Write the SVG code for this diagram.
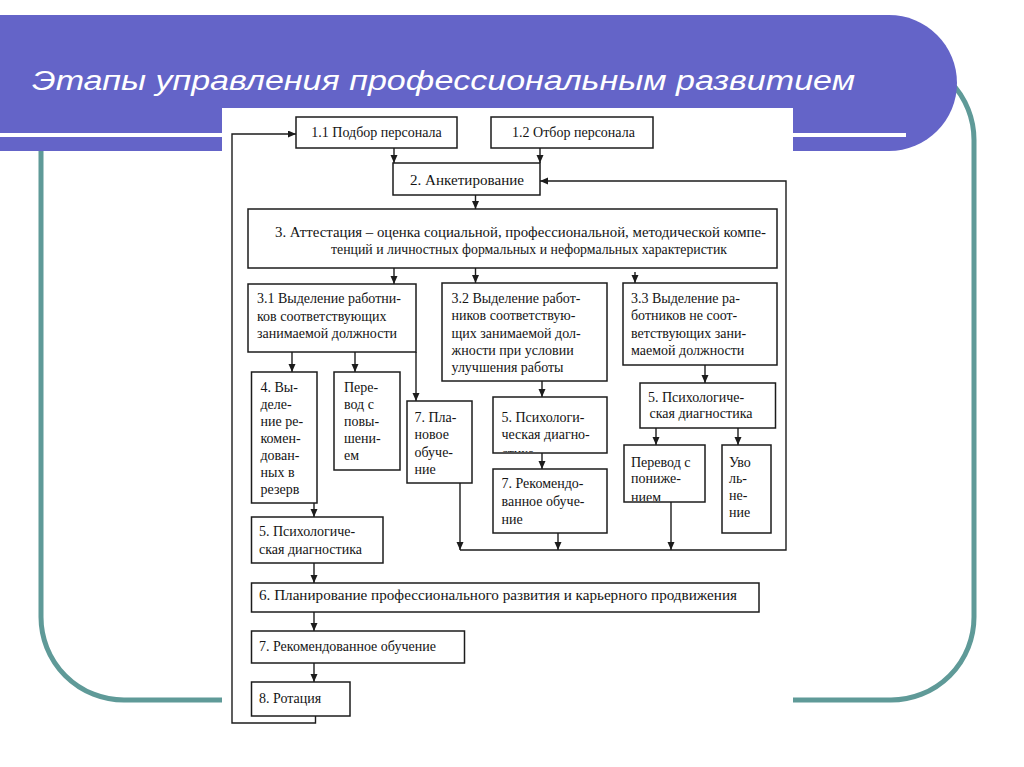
<svg xmlns="http://www.w3.org/2000/svg" width="1024" height="767" viewBox="0 0 1024 767">
<style>
.box{fill:#fff;stroke:#1c1c1c;stroke-width:1.5}
.t{font-family:"Liberation Serif","Times New Roman",serif;font-size:14px;fill:#141414}
.c{fill:none;stroke:#1c1c1c;stroke-width:1.4}
.a{marker-end:url(#ah)}
.title{font-family:"Liberation Sans",Arial,sans-serif;font-style:italic;font-size:27px;fill:#fff}
</style>
<defs>
<marker id="ah" markerUnits="userSpaceOnUse" markerWidth="8" markerHeight="8" refX="8" refY="3.5" orient="auto">
<path d="M0,0 L8,3.5 L0,7 Z" fill="#1c1c1c"/>
</marker>
<clipPath id="clipMid5"><rect x="493" y="397" width="114" height="55"/></clipPath>
<clipPath id="clipDown"><rect x="624" y="445" width="81" height="56"/></clipPath>
</defs>
<rect width="1024" height="767" fill="#fff"/>
<g id="background">
<rect x="41" y="57" width="933" height="643" rx="83" ry="83" fill="none" stroke="#5f9a98" stroke-width="5"/>
<path d="M0,15 H889 A68,68 0 0 1 889,151 H0 Z" fill="#6464c8"/>
<rect x="0" y="133" width="906" height="4" fill="#fff"/>
<text class="title" x="32" y="90" textLength="823" lengthAdjust="spacingAndGlyphs">Этапы управления профессиональным развитием</text>
<rect x="222" y="108" width="571" height="620" fill="#fff"/>
</g>
<g id="connectors">
<line class="c a" x1="394" y1="148" x2="394" y2="163"/>
<line class="c a" x1="540" y1="148" x2="540" y2="163"/>
<line class="c a" x1="475.5" y1="195" x2="475.5" y2="209"/>
<line class="c a" x1="394" y1="268" x2="394" y2="284"/>
<line class="c a" x1="475.5" y1="268" x2="475.5" y2="283"/>
<line class="c a" x1="635" y1="272" x2="635" y2="283"/>
<line class="c a" x1="292" y1="352" x2="292" y2="372"/>
<line class="c a" x1="355" y1="352" x2="355" y2="372"/>
<line class="c a" x1="416" y1="352" x2="416" y2="401"/>
<line class="c a" x1="542" y1="381" x2="542" y2="397"/>
<line class="c a" x1="542" y1="453" x2="542" y2="469"/>
<line class="c a" x1="705" y1="365" x2="705" y2="383"/>
<line class="c a" x1="656" y1="428" x2="656" y2="445"/>
<line class="c a" x1="738" y1="428" x2="738" y2="445"/>
<line class="c a" x1="314" y1="503" x2="314" y2="517"/>
<line class="c a" x1="314" y1="563" x2="314" y2="583"/>
<line class="c a" x1="314" y1="612" x2="314" y2="631"/>
<line class="c a" x1="314" y1="663" x2="314" y2="682"/>
<polyline class="c a" points="315.5,716 315.5,723 232,723 232,134 296,134"/>
<line class="c a" x1="460" y1="483" x2="460" y2="550"/>
<line class="c a" x1="558" y1="533" x2="558" y2="550"/>
<line class="c a" x1="671" y1="502" x2="671" y2="550"/>
<polyline class="c a" points="460,550 786,550 786,181 540,181"/>
</g>
<g id="n11"><rect class="box" x="296" y="117" width="161" height="31"/><text class="t" x="376.5" y="137" text-anchor="middle">1.1 Подбор персонала</text></g>
<g id="n12"><rect class="box" x="491" y="117" width="162" height="31"/><text class="t" x="573.5" y="137" text-anchor="middle">1.2 Отбор персонала</text></g>
<g id="n2"><rect class="box" x="393" y="163" width="147" height="32"/><text class="t" x="410" y="185" textLength="114" lengthAdjust="spacingAndGlyphs">2. Анкетирование</text></g>
<g id="n3"><rect class="box" x="248" y="209" width="529" height="59"/>
<text class="t" x="275" y="236.5" textLength="491" lengthAdjust="spacingAndGlyphs">3. Аттестация – оценка социальной, профессиональной, методической компе-</text>
<text class="t" x="331" y="253.5" textLength="396" lengthAdjust="spacingAndGlyphs">тенций и личностных формальных и неформальных характеристик</text></g>
<g id="n31"><rect class="box" x="248" y="284" width="168" height="68"/>
<text class="t"><tspan x="257" y="303">3.1 Выделение работни-</tspan><tspan x="257" y="320.5">ков соответствующих</tspan><tspan x="257" y="338">занимаемой должности</tspan></text></g>
<g id="n32"><rect class="box" x="442" y="283" width="165" height="98"/>
<text class="t"><tspan x="451.5" y="303">3.2 Выделение работ-</tspan><tspan x="451.5" y="320.3">ников соответствую-</tspan><tspan x="451.5" y="337.5">щих занимаемой дол-</tspan><tspan x="451.5" y="354.8">жности при условии</tspan><tspan x="451.5" y="372">улучшения работы</tspan></text></g>
<g id="n33"><rect class="box" x="623" y="283" width="154" height="82"/>
<text class="t"><tspan x="631" y="303">3.3 Выделение ра-</tspan><tspan x="631" y="320.4">ботников не соот-</tspan><tspan x="631" y="337.8">ветствующих зани-</tspan><tspan x="631" y="355.2">маемой должности</tspan></text></g>
<g id="n4"><rect class="box" x="251.5" y="372" width="65.5" height="131"/>
<text class="t"><tspan x="260.5" y="391.5">4. Вы-</tspan><tspan x="260.5" y="408.5">деле-</tspan><tspan x="260.5" y="425.5">ние ре-</tspan><tspan x="260.5" y="442.5">комен-</tspan><tspan x="260.5" y="459.5">дован-</tspan><tspan x="260.5" y="476.5">ных в</tspan><tspan x="260.5" y="493.5">резерв</tspan></text></g>
<g id="nUp"><rect class="box" x="334" y="372" width="66" height="98"/>
<text class="t"><tspan x="344" y="391.5">Пере-</tspan><tspan x="344" y="408.5">вод с</tspan><tspan x="344" y="425.5">повы-</tspan><tspan x="344" y="442.5">шени-</tspan><tspan x="344" y="459.5">ем</tspan></text></g>
<g id="n7plan"><rect class="box" x="407" y="401" width="65" height="82"/>
<text class="t"><tspan x="414.5" y="422">7. Пла-</tspan><tspan x="414.5" y="439.3">новое</tspan><tspan x="414.5" y="456.6">обуче-</tspan><tspan x="414.5" y="474">ние</tspan></text></g>
<g id="n5mid"><rect class="box" x="493" y="397" width="114" height="56"/>
<text class="t" clip-path="url(#clipMid5)"><tspan x="501.5" y="421.5">5. Психологи-</tspan><tspan x="501.5" y="439">ческая диагно-</tspan><tspan x="501.5" y="457.5">стика</tspan></text></g>
<g id="n7mid"><rect class="box" x="493" y="469" width="114" height="64"/>
<text class="t"><tspan x="501.5" y="488">7. Рекомендо-</tspan><tspan x="501.5" y="506">ванное обуче-</tspan><tspan x="501.5" y="523.5">ние</tspan></text></g>
<g id="n5right"><rect class="box" x="640" y="383" width="135.5" height="45"/>
<text class="t"><tspan x="648" y="401.5">5. Психологиче-</tspan><tspan x="649.5" y="417.5">ская диагностика</tspan></text></g>
<g id="nDown"><rect class="box" x="624" y="445" width="81" height="57"/>
<text class="t" clip-path="url(#clipDown)"><tspan x="631" y="466.5">Перевод с</tspan><tspan x="631" y="483">пониже-</tspan><tspan x="631" y="501.5">нием</tspan></text></g>
<g id="nFire"><rect class="box" x="722" y="445" width="49" height="88"/>
<text class="t"><tspan x="729" y="466.5">Уво</tspan><tspan x="729" y="483">ль-</tspan><tspan x="729" y="500">не-</tspan><tspan x="729" y="516.5">ние</tspan></text></g>
<g id="n5left"><rect class="box" x="251.5" y="517" width="131.5" height="46"/>
<text class="t"><tspan x="259" y="535.5">5. Психологиче-</tspan><tspan x="259" y="554">ская диагностика</tspan></text></g>
<g id="n6"><rect class="box" x="251.5" y="583" width="507.5" height="29"/>
<text class="t" x="259" y="600" textLength="478" lengthAdjust="spacingAndGlyphs">6. Планирование  профессионального развития и карьерного продвижения</text></g>
<g id="n7low"><rect class="box" x="251.5" y="631" width="213" height="32"/>
<text class="t" x="259" y="651">7. Рекомендованное обучение</text></g>
<g id="n8"><rect class="box" x="251.5" y="682" width="98.5" height="34"/>
<text class="t" x="259" y="703">8. Ротация</text></g>
</svg>
